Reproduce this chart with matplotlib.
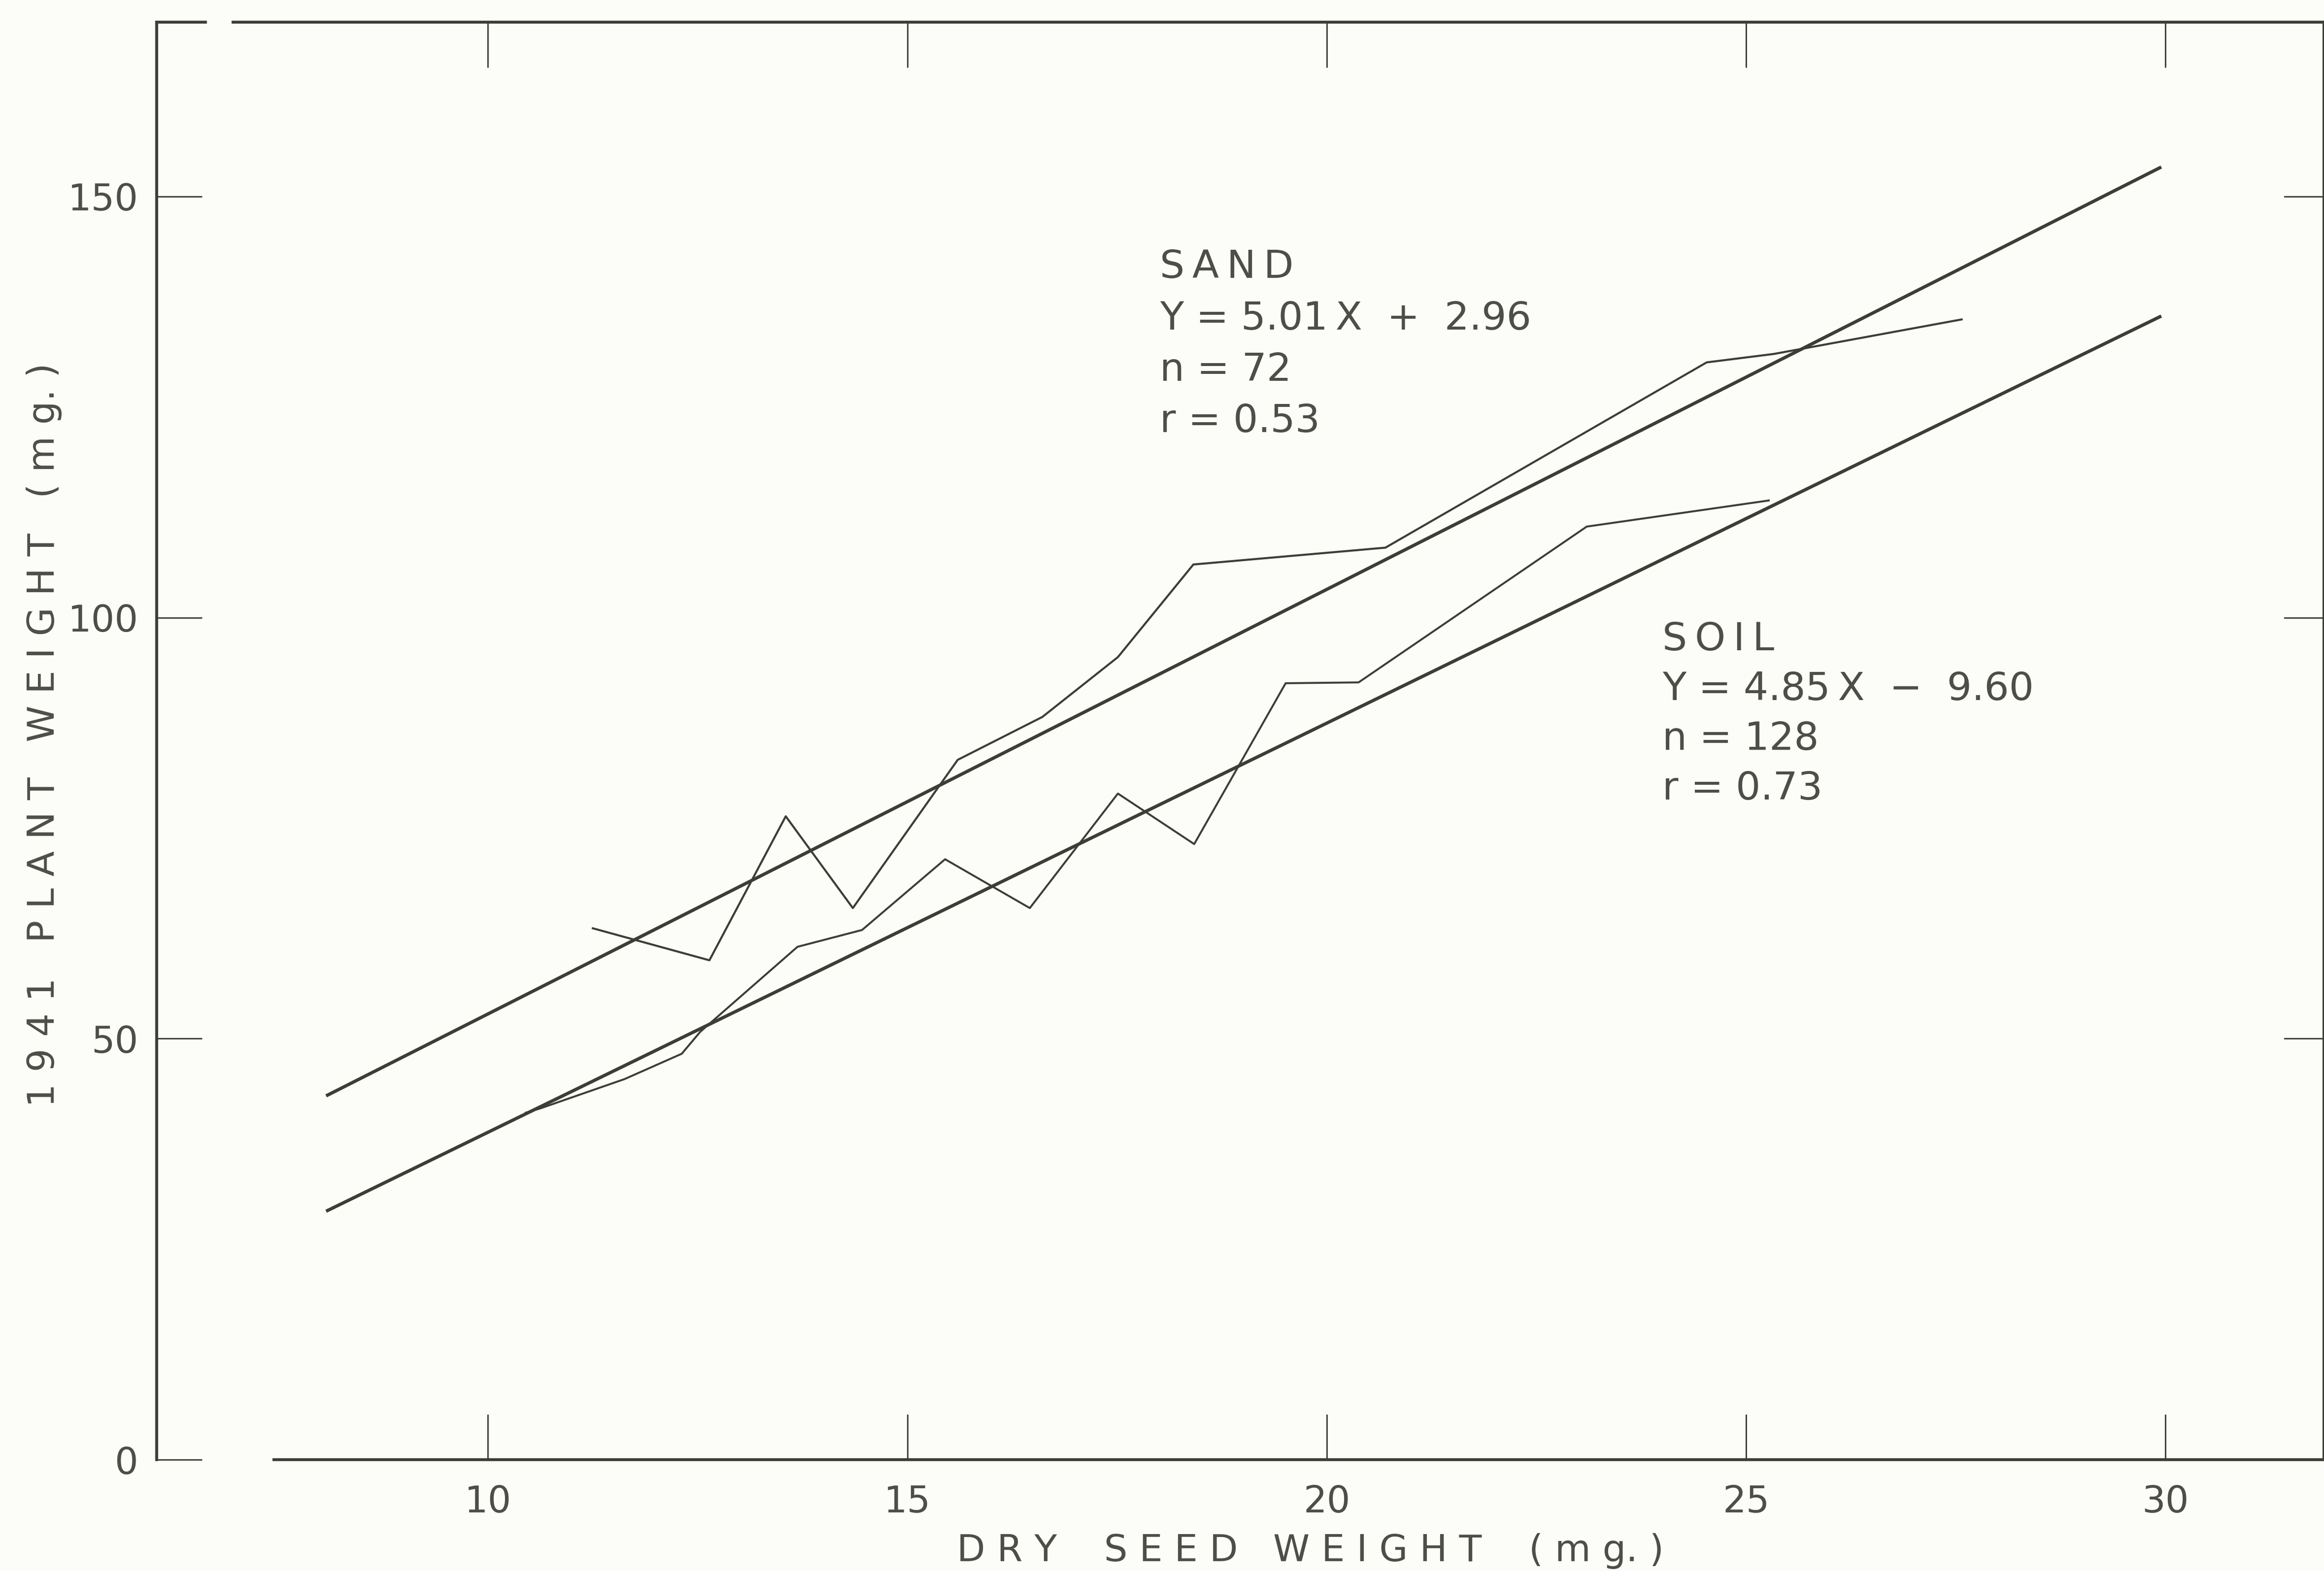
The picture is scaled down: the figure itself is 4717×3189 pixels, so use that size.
import matplotlib
matplotlib.use('Agg')
import matplotlib.pyplot as plt

# axis ticks
x_ticks = [10, 15, 20, 25, 30]
x_labels = ['10', '15', '20', '25', '30']
y_ticks = [0, 50, 100, 150]
y_labels = ['0', '50', '100', '150']
right_ticks = [50, 100, 150]

# mean plant weight per seed-weight class, sand
sand_x = [11.25, 12.64, 13.55, 14.35, 15.60, 16.61, 17.51, 18.41, 20.70, 24.53, 25.33, 27.57]
sand_y = [63.1, 59.3, 76.4, 65.5, 83.1, 88.2, 95.3, 106.3, 108.3, 130.3, 131.3, 135.4]

# mean plant weight per seed-weight class, soil
soil_x = [10.45, 10.62, 11.63, 12.31, 12.53, 13.69, 14.46, 15.45, 16.46, 17.51, 18.42, 19.51, 20.38, 23.10, 25.27]
soil_y = [41.2, 41.7, 45.2, 48.2, 50.8, 60.9, 62.9, 71.3, 65.5, 79.1, 73.1, 92.2, 92.3, 110.8, 113.9]

# regression lines (end points)
fit_x = [8.07, 29.95]
sand_fit_y = [43.2, 153.5]
soil_fit_y = [29.5, 135.8]

ts = '\u2009'  # thin space for the spaced-out lettering
sand_text = ['S' + ts + 'A' + ts + 'N' + ts + 'D', 'Y = 5.01' + ts + 'X  +  2.96',
             'n = 72', 'r = 0.53']
soil_text = ['S' + ts + 'O' + ts + 'I' + ts + 'L', 'Y = 4.85' + ts + 'X  \u2212  9.60',
             'n = 128', 'r = 0.73']

ink = '#3b3e35'
txt = '#4d4e47'
bg = '#fcfcf8'

plt.rcParams['font.family'] = ['DejaVu Sans']

fig = plt.figure(figsize=(4717 / 300, 3189 / 300), dpi=300, facecolor=bg)
ax = fig.add_axes([318 / 4717, 1 - 2963 / 3189, 1 - 318 / 4717, (2963 - 45) / 3189])
ax.set_facecolor(bg)
xmin, xmax = 6.05, 31.89
ax.set_xlim(xmin, xmax)
ax.set_ylim(0, 170.7)

# regression lines
ax.plot(fit_x, sand_fit_y, color=ink, lw=1.6, solid_capstyle='butt')
ax.plot(fit_x, soil_fit_y, color=ink, lw=1.6, solid_capstyle='butt')
# class means
ax.plot(sand_x, sand_y, color=ink, lw=1.0)
ax.plot(soil_x, soil_y, color=ink, lw=0.95)

# frame
for s in ['left', 'bottom', 'right']:
    ax.spines[s].set_color(ink)
    ax.spines[s].set_linewidth(1.4)
ax.spines['bottom'].set_bounds(7.45, xmax)
ax.spines['top'].set_visible(False)
trans = ax.get_xaxis_transform()
ax.plot([xmin, 6.63], [1, 1], transform=trans, color=ink, lw=1.4, clip_on=False)
ax.plot([6.96, xmax], [1, 1], transform=trans, color=ink, lw=1.4, clip_on=False)

ax.set_xticks(x_ticks)
ax.set_xticklabels(x_labels)
ax.set_yticks(y_ticks)
ax.set_yticklabels(y_labels)
ax.tick_params(axis='x', direction='in', length=22, width=0.7, color=ink,
               top=True, pad=12, labelsize=18, labelcolor=txt)
ax.tick_params(axis='y', direction='in', length=22, width=0.7, color=ink,
               pad=9, labelsize=18, labelcolor=txt)
# inward ticks on the right side (no labels)
for v in right_ticks:
    ax.plot([1, 1 - 80 / 4399], [v, v], transform=ax.get_yaxis_transform(),
            color=ink, lw=0.7, clip_on=False)
ax.yaxis.set_ticks_position('left')

ax.set_xlabel('D R Y    S E E D   W E I G H T    ( m g. )', fontsize=18, color=txt,
              va='center', ha='center')
ax.xaxis.set_label_coords((2660 - 318) / 4399, -(3148 - 2963) / 2918)
ax.set_ylabel('1 9 4 1   P L A N T   W E I G H T   ( m g. )', fontsize=18, color=txt,
              va='center', ha='center')
ax.yaxis.set_label_coords(-(318 - 90) / 4399, (2963 - 1492) / 2918)

for i, s in enumerate(sand_text):
    ax.text(18.01, 141.6 - i * 6.1, s, fontsize=19, color=txt, va='center', ha='left')
for i, s in enumerate(soil_text):
    ax.text(24.0, 97.4 - i * 5.9, s, fontsize=19, color=txt, va='center', ha='left')

fig.savefig('out.png', dpi=300, facecolor=bg)
